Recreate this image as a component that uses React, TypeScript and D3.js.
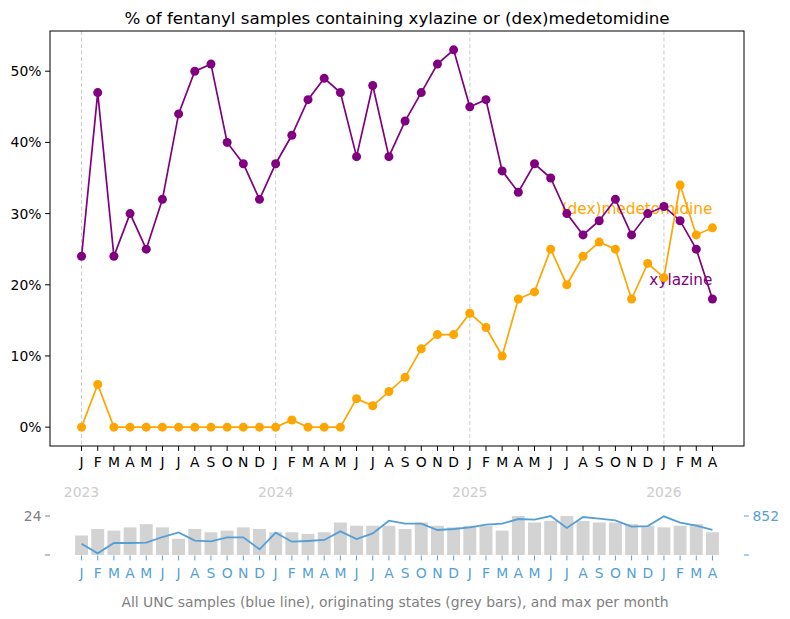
import React from "react";
import * as d3 from "d3";

const monthLetters = ["J","F","M","A","M","J","J","A","S","O","N","D"];
const years = ["2023", "2024", "2025", "2026"];
const monthCount = 40;

const xylazine = [24,47,24,30,25,32,44,50,51,40,37,32, 37,41,46,49,47,38,48,38,43,47,51,53, 45,46,36,33,37,35,30,27,29,32,27,30, 31,29,25,18];
const dexmed = [0,6,0,0,0,0,0,0,0,0,0,0, 0,1,0,0,0,4,3,5,7,11,13,13, 16,14,10,18,19,25,20,24,26,25,18,23, 21,34,27,28];
const states = [12,16,15,17,19,17,10,16,14,15,17,16, 14,14,13,14,20,18,18,18,16,20,18,17, 18,18,15,24,20,21,24,21,20,20,19,18, 17,18,19,14];
const uncSamples = [248,36,262,262,269,393,495,313,299,386,386,124, 488,291,306,328,517,350,473,750,684,684,546,568, 604,663,684,786,772,852,590,830,794,757,619,633, 845,706,640,548];
const yTicks = [0,10,20,30,40,50];
const statesMax = 24;
const samplesMax = 852;

const W = 790, H = 619;
const FONT = "DejaVu Sans, sans-serif";
const PURPLE = "#800080", ORANGE = "#ffa500", BLUE = "#559fd6";
const TICK_FS = 13.9;

export default function App() {
  const idx = d3.range(monthCount);
  const x = d3.scaleLinear().domain([-1.95, 40.95]).range([50, 744]);
  const y = d3.scaleLinear().domain([-2.65, 55.65]).range([446, 31]);
  const yb = d3.scaleLinear().domain([0, statesMax]).range([555, 516]);
  const yl = d3.scaleLinear().domain([0, samplesMax]).range([555, 516]);
  const line = d3.line<number>().x((_, i) => x(i)).y(d => y(d));
  const lineB = d3.line<number>().x((_, i) => x(i)).y(d => yl(d));
  const barW = 0.8 * (x(1) - x(0));
  const yearIdx = years.map((_, k) => k * 12);

  return (
    <svg width={W} height={H} style={{ position: "absolute", left: 0, top: 0 }} fontFamily={FONT}>
      <rect width={W} height={H} fill="#fff" />
      <text x={397} y={24} textAnchor="middle" fontSize={16.7} fill="#000">
        % of fentanyl samples containing xylazine or (dex)medetomidine
      </text>
      {yearIdx.map(i => (
        <line key={i} x1={x(i)} x2={x(i)} y1={31} y2={446} stroke="#cccccc" strokeWidth={1} strokeDasharray="4,2.5" />
      ))}
      <text x={x(monthCount - 1)} y={y(30)} textAnchor="end" fontSize={15.3} fill={ORANGE}>(dex)medetomidine</text>
      <text x={x(monthCount - 1)} y={y(20)} textAnchor="end" fontSize={15.3} fill={PURPLE}>xylazine</text>
      <path d={line(xylazine) || ""} fill="none" stroke={PURPLE} strokeWidth={1.7} />
      {xylazine.map((v, i) => <circle key={"x" + i} cx={x(i)} cy={y(v)} r={4.5} fill={PURPLE} />)}
      <path d={line(dexmed) || ""} fill="none" stroke={ORANGE} strokeWidth={1.7} />
      {dexmed.map((v, i) => <circle key={"d" + i} cx={x(i)} cy={y(v)} r={4.5} fill={ORANGE} />)}
      <rect x={50} y={31} width={694} height={415} fill="none" stroke="#000" strokeWidth={1} />
      {yTicks.map(t => (
        <g key={t}>
          <line x1={45.1} x2={50} y1={y(t)} y2={y(t)} stroke="#000" />
          <text x={41.5} y={y(t)} dy="0.36em" textAnchor="end" fontSize={TICK_FS}>{t}%</text>
        </g>
      ))}
      {idx.map(i => (
        <g key={i}>
          <line x1={x(i)} x2={x(i)} y1={446} y2={450.9} stroke="#000" />
          <text x={x(i)} y={467} textAnchor="middle" fontSize={TICK_FS}>{monthLetters[i % 12]}</text>
        </g>
      ))}
      {yearIdx.map((i, k) => (
        <text key={"y" + k} x={x(i)} y={497} textAnchor="middle" fontSize={TICK_FS} fill="#cccccc">{years[k]}</text>
      ))}
      {states.map((v, i) => (
        <rect key={"b" + i} x={x(i) - barW / 2} y={yb(v)} width={barW} height={yb(0) - yb(v)} fill="#d3d3d3" />
      ))}
      <path d={lineB(uncSamples) || ""} fill="none" stroke={BLUE} strokeWidth={1.8} />
      {idx.map(i => (
        <g key={"bt" + i}>
          <line x1={x(i)} x2={x(i)} y1={555.5} y2={560.4} stroke={BLUE} />
          <text x={x(i)} y={578} textAnchor="middle" fontSize={TICK_FS} fill={BLUE}>{monthLetters[i % 12]}</text>
        </g>
      ))}
      <line x1={45.1} x2={50} y1={yb(statesMax)} y2={yb(statesMax)} stroke="#808080" />
      <line x1={45.1} x2={50} y1={yb(0)} y2={yb(0)} stroke="#808080" />
      <text x={41.5} y={yb(statesMax)} dy="0.36em" textAnchor="end" fontSize={TICK_FS} fill="#808080">{statesMax}</text>
      <line x1={744} x2={748.9} y1={yl(samplesMax)} y2={yl(samplesMax)} stroke={BLUE} />
      <line x1={744} x2={748.9} y1={yl(0)} y2={yl(0)} stroke={BLUE} />
      <text x={752.5} y={yl(samplesMax)} dy="0.36em" textAnchor="start" fontSize={TICK_FS} fill={BLUE}>{samplesMax}</text>
      <text x={395} y={606.5} textAnchor="middle" fontSize={TICK_FS} fill="#808080">
        All UNC samples (blue line), originating states (grey bars), and max per month
      </text>
    </svg>
  );
}
